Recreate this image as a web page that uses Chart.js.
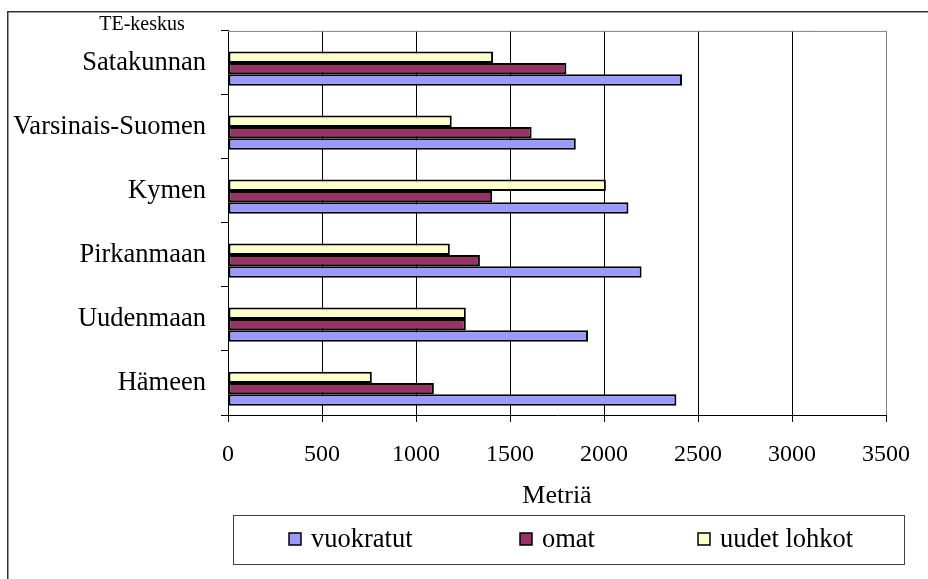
<!DOCTYPE html>
<html>
<head>
<meta charset="utf-8">
<script src="https://cdn.jsdelivr.net/npm/chart.js@4.4.1/dist/chart.umd.min.js"></script>
<style>
  html, body { margin: 0; padding: 0; background: #fff; }
  canvas { display: block; }
</style>
</head>
<body>
<canvas id="chart" width="928" height="579"></canvas>
<script>
const CATEGORIES = ['Satakunnan', 'Varsinais-Suomen', 'Kymen', 'Pirkanmaan', 'Uudenmaan', 'Hämeen'];
const VUOKRATUT = [2415, 1850, 2130, 2200, 1915, 2385];
const OMAT = [1800, 1615, 1405, 1340, 1265, 1095];
const UUDET_LOHKOT = [1410, 1190, 2010, 1180, 1265, 765];
const X_TICKS = [0, 500, 1000, 1500, 2000, 2500, 3000, 3500];

const SERIES_NAMES = ['vuokratut', 'omat', 'uudet lohkot'];
const SERIES_COLORS = ['#9999ff', '#993366', '#ffffcc'];

const FONT = '"Liberation Serif", "Times New Roman", serif';

// bars are stacked top-down in dataset order, so the list runs
// uudet lohkot -> omat -> vuokratut; an empty first slot keeps the
// three bars in the lower part of each band
function buildDatasets() {
  const values = [VUOKRATUT, OMAT, UUDET_LOHKOT];
  const sets = [{ label: '', data: CATEGORIES.map(() => null) }];
  for (let i = values.length - 1; i >= 0; i--) {
    sets.push({
      label: SERIES_NAMES[i],
      data: values[i],
      backgroundColor: SERIES_COLORS[i],
      borderColor: '#000',
      borderWidth: 2,
      borderSkipped: false,
    });
  }
  return sets;
}

const frame = {
  id: 'frame',
  beforeDraw(chart) {
    const { ctx } = chart;
    ctx.save();
    ctx.fillStyle = '#fff';
    ctx.fillRect(0, 0, chart.width, chart.height);
    ctx.strokeStyle = '#333';
    ctx.lineWidth = 1.5;
    ctx.beginPath();
    ctx.moveTo(7.75, chart.height + 2);
    ctx.lineTo(7.75, 11.75);
    ctx.lineTo(chart.width + 2, 11.75);
    ctx.stroke();
    ctx.restore();
  },
  beforeDatasetsDraw(chart) {
    const { ctx, chartArea: a } = chart;
    // grey top edge of the plot
    ctx.save();
    ctx.strokeStyle = '#808080';
    ctx.lineWidth = 1;
    ctx.beginPath();
    ctx.moveTo(a.left, a.top + 0.5);
    ctx.lineTo(a.right, a.top + 0.5);
    ctx.stroke();
    ctx.restore();
  },
  afterDraw(chart) {
    const { ctx } = chart;
    ctx.save();
    ctx.fillStyle = '#000';
    ctx.textBaseline = 'middle';

    // category axis caption
    ctx.font = '20px ' + FONT;
    ctx.textAlign = 'center';
    ctx.fillText('TE-keskus', 142, 25);

    // legend box
    ctx.strokeStyle = '#404040';
    ctx.lineWidth = 1;
    ctx.strokeRect(233.5, 515.5, 671, 49);

    const itemX = [289, 520, 698];
    ctx.font = '26.5px ' + FONT;
    ctx.textAlign = 'left';
    SERIES_NAMES.forEach((name, i) => {
      ctx.fillStyle = SERIES_COLORS[i];
      ctx.fillRect(itemX[i], 533, 12, 12);
      ctx.strokeStyle = '#000';
      ctx.lineWidth = 1.5;
      ctx.strokeRect(itemX[i], 533, 12, 12);
      ctx.fillStyle = '#000';
      ctx.fillText(name, itemX[i] + 22, 540);
    });
    ctx.restore();
  },
};

new Chart(document.getElementById('chart'), {
  type: 'bar',
  data: {
    labels: CATEGORIES,
    datasets: buildDatasets(),
  },
  options: {
    indexAxis: 'y',
    responsive: false,
    devicePixelRatio: 1,
    animation: false,
    categoryPercentage: 0.71,
    barPercentage: 1,
    layout: { padding: { top: 30, right: 42, bottom: 0, left: 0 } },
    plugins: {
      legend: { display: false },
      tooltip: { enabled: false },
    },
    scales: {
      x: {
        min: 0,
        max: 3500,
        afterBuildTicks: (scale) => {
          scale.ticks = X_TICKS.map(v => ({ value: v }));
        },
        afterFit: (scale) => {
          scale.height = 164;
        },
        grid: {
          color: (c) => (c.tick && c.tick.value === 3500 ? '#808080' : '#000'),
          lineWidth: 1,
          tickLength: 7,
          tickColor: '#000',
        },
        border: { color: '#000', width: 1 },
        ticks: {
          color: '#000',
          font: { family: FONT, size: 24 },
          padding: 18,
          maxRotation: 0,
          callback: (v) => String(v),
        },
        title: {
          display: true,
          text: 'Metriä',
          color: '#000',
          font: { family: FONT, size: 26 },
          padding: { top: 0, bottom: 67 },
        },
      },
      y: {
        afterFit: (scale) => {
          scale.width = 228;
        },
        grid: {
          offset: true,
          drawOnChartArea: false,
          tickLength: 7,
          tickColor: '#000',
        },
        border: { color: '#000', width: 1 },
        ticks: {
          color: '#000',
          font: { family: FONT, size: 26.5 },
          padding: 15,
        },
      },
    },
  },
  plugins: [frame],
});
</script>
</body>
</html>
